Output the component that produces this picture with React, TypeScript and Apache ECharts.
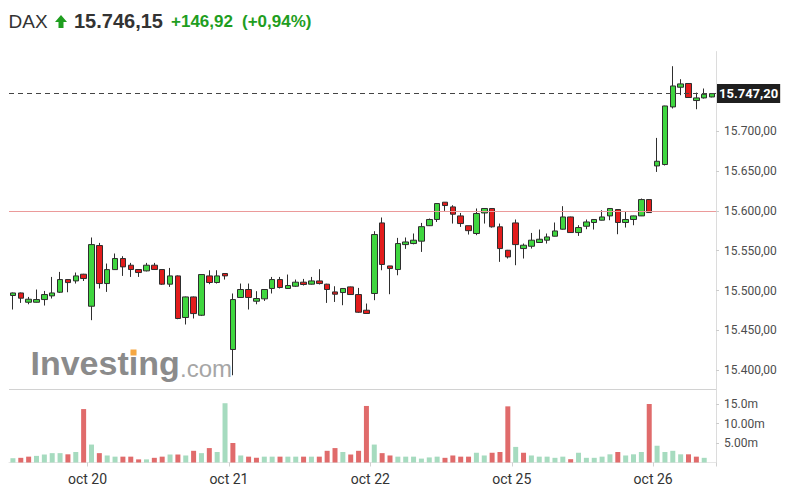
import React, { useEffect, useRef } from "react";
import * as echarts from "echarts";

// ---- data ----
const dayNames = ["oct 19", "oct 20", "oct 21", "oct 22", "oct 25", "oct 26"];
const barsPerDay = [10, 18, 18, 18, 18, 8];

// [open, close, low, high]
const candles: number[][] = [
  [15493.8, 15497.0, 15476.2, 15497.5],
  [15497.0, 15490.4, 15484.5, 15497.5],
  [15485.3, 15489.1, 15482.8, 15492.0],
  [15485.3, 15488.7, 15485.0, 15501.3],
  [15488.7, 15495.0, 15481.2, 15499.5],
  [15493.3, 15497.0, 15490.0, 15517.1],
  [15497.9, 15513.8, 15497.0, 15523.4],
  [15513.8, 15510.0, 15497.9, 15514.0],
  [15512.1, 15518.4, 15508.8, 15522.6],
  [15520.5, 15515.1, 15512.0, 15521.0],
  [15480.3, 15557.7, 15462.8, 15566.6],
  [15556.5, 15508.8, 15502.6, 15559.8],
  [15508.8, 15526.3, 15498.3, 15533.9],
  [15526.3, 15540.2, 15526.0, 15546.5],
  [15540.2, 15529.7, 15518.4, 15543.1],
  [15531.8, 15526.4, 15517.1, 15534.7],
  [15526.4, 15522.6, 15517.1, 15527.0],
  [15524.7, 15531.8, 15524.0, 15534.7],
  [15531.8, 15526.4, 15526.0, 15534.7],
  [15526.4, 15508.0, 15507.0, 15527.0],
  [15508.0, 15518.4, 15504.6, 15528.4],
  [15518.4, 15464.9, 15464.0, 15519.0],
  [15466.2, 15492.0, 15457.4, 15492.5],
  [15492.0, 15471.1, 15464.9, 15492.5],
  [15469.0, 15520.1, 15468.0, 15520.5],
  [15518.4, 15510.1, 15508.0, 15525.5],
  [15510.1, 15518.4, 15508.8, 15525.5],
  [15521.4, 15518.4, 15513.8, 15522.0],
  [15426.0, 15488.7, 15393.7, 15496.3],
  [15491.3, 15501.3, 15491.0, 15508.8],
  [15501.3, 15491.3, 15476.2, 15508.8],
  [15486.6, 15490.0, 15482.8, 15499.2],
  [15489.6, 15501.3, 15487.0, 15501.5],
  [15502.6, 15513.8, 15496.3, 15517.1],
  [15513.8, 15503.8, 15502.6, 15517.1],
  [15502.6, 15506.3, 15502.0, 15520.1],
  [15505.4, 15510.5, 15504.6, 15513.8],
  [15510.5, 15507.6, 15506.3, 15514.6],
  [15508.0, 15512.1, 15507.5, 15517.1],
  [15512.1, 15508.8, 15507.6, 15526.8],
  [15508.0, 15501.3, 15484.5, 15508.5],
  [15498.3, 15495.4, 15485.7, 15505.4],
  [15497.5, 15502.6, 15481.6, 15503.0],
  [15504.6, 15495.0, 15494.5, 15505.0],
  [15495.0, 15472.8, 15472.0, 15503.3],
  [15475.3, 15471.2, 15471.0, 15483.7],
  [15496.3, 15570.3, 15487.9, 15574.5],
  [15584.9, 15532.7, 15525.5, 15591.7],
  [15530.9, 15527.6, 15495.4, 15531.0],
  [15526.4, 15559.0, 15519.2, 15566.1],
  [15557.7, 15561.0, 15552.3, 15566.6],
  [15559.0, 15563.2, 15558.0, 15571.6],
  [15562.0, 15580.2, 15548.5, 15584.9],
  [15581.4, 15589.2, 15581.0, 15590.4],
  [15589.2, 15609.2, 15586.1, 15609.5],
  [15610.9, 15606.7, 15600.0, 15611.0],
  [15605.0, 15595.8, 15584.1, 15607.1],
  [15593.7, 15584.1, 15579.9, 15597.4],
  [15581.4, 15575.2, 15570.3, 15581.5],
  [15571.6, 15596.7, 15569.5, 15603.0],
  [15597.4, 15603.0, 15584.1, 15603.5],
  [15603.0, 15580.0, 15579.0, 15603.5],
  [15580.0, 15552.7, 15536.0, 15584.1],
  [15550.6, 15542.2, 15540.2, 15551.0],
  [15584.9, 15557.7, 15531.8, 15589.2],
  [15552.7, 15556.9, 15540.2, 15559.0],
  [15555.6, 15563.2, 15552.7, 15572.3],
  [15560.3, 15564.4, 15560.0, 15576.6],
  [15563.2, 15567.3, 15559.0, 15571.6],
  [15568.2, 15574.8, 15568.0, 15585.4],
  [15577.0, 15592.4, 15576.5, 15605.9],
  [15592.4, 15572.8, 15572.5, 15592.8],
  [15572.8, 15579.1, 15568.6, 15582.0],
  [15580.7, 15586.1, 15577.0, 15589.2],
  [15585.4, 15589.2, 15576.6, 15589.5],
  [15588.3, 15592.4, 15588.0, 15600.8],
  [15593.7, 15603.0, 15588.3, 15603.5],
  [15601.7, 15585.4, 15570.7, 15602.0],
  [15585.4, 15589.2, 15579.1, 15598.7],
  [15589.2, 15593.7, 15582.0, 15594.0],
  [15593.7, 15614.2, 15593.5, 15615.5],
  [15614.2, 15597.9, 15597.5, 15614.5],
  [15656.4, 15662.3, 15648.9, 15691.6],
  [15658.2, 15731.7, 15657.0, 15732.0],
  [15730.5, 15756.8, 15728.5, 15781.6],
  [15755.2, 15759.4, 15745.2, 15765.3],
  [15759.9, 15742.3, 15742.0, 15760.0],
  [15738.5, 15741.8, 15727.6, 15748.5],
  [15741.8, 15746.4, 15741.0, 15753.6],
  [15743.0, 15747.2, 15742.5, 15747.5],
];

// volume in millions
const volumes: (number | null)[] = [
  1.1, 1.2, 1.5, 1.7, 2.05, 2.4, 2.4, 2.1, 2.7, 13.7,
  4.6, 2.4, 1.8, 1.5, 1.5, 1.5, 0.8, 0.8, 1.2, 1.5,
  2.05, 2.05, 1.8, 3.0, 2.4, 3.7, 2.7, 15.2, 5.0, 1.8,
  1.5, 1.2, 1.5, 1.5, 1.5, 1.5, 1.5, 1.5, 1.5, 1.5,
  3.0, 3.7, 2.7, 2.05, 3.0, 14.5, 4.6, 2.4, 1.8, 1.5,
  1.5, 1.5, 1.0, 1.3, 1.5, 1.2, 1.8, 1.5, 1.5, 2.5,
  1.8, 2.5, 2.7, 14.4, 4.0, 2.5, 1.8, 1.5, 1.5, 1.2,
  1.5, 0.85, 2.5, 1.2, 1.2, 1.5, 2.1, 2.7, 1.8, 2.1,
  2.7, 15.0, 4.3, 2.7, 3.0, 2.1, 2.1, 1.5, 1.2, null,
];
// 1 = green, 0 = red
const volumeUp: number[] = [
  1, 0, 0, 1, 1, 1, 1, 0, 1, 0,
  1, 0, 1, 1, 0, 0, 0, 1, 0, 0,
  1, 0, 1, 0, 1, 0, 1, 1, 0, 1,
  0, 0, 1, 1, 0, 1, 1, 0, 1, 0,
  0, 0, 1, 0, 0, 0, 1, 0, 0, 1,
  1, 1, 1, 1, 1, 0, 0, 0, 0, 1,
  1, 0, 0, 0, 1, 0, 1, 1, 1, 1,
  1, 0, 1, 1, 1, 1, 1, 0, 1, 1,
  1, 0, 1, 1, 1, 1, 0, 0, 1, 1,
];

const priceTicks = [15400, 15450, 15500, 15550, 15600, 15650, 15700];
const volTicks = [5, 10, 15];
const volTickLabels = ["5.00m", "10.00m", "15.0m"];

const lastPrice = 15747.2;
const prevClose = 15599.23;
const headerName = "DAX";
const headerPrice = "15.746,15";
const headerChange = "+146,92";
const headerPct = "(+0,94%)";

// ---- helpers ----
const categories: string[] = [];
dayNames.forEach((d, di) => {
  for (let k = 0; k < barsPerDay[di]; k++) categories.push(d + "|" + k);
});
const isDayStart = (idx: number) =>
  idx > 0 && categories[idx].split("|")[0] !== categories[idx - 1].split("|")[0];

const fmtPrice = (v: number) => {
  const [i, d] = v.toFixed(2).split(".");
  return i.replace(/\B(?=(\d{3})+(?!\d))/g, ".") + "," + d;
};

const GREEN = "#3fd63f";
const RED = "#e31c1c";
const VOL_GREEN = "#a6dbbf";
const VOL_RED = "#e06b6b";
const HEAD_GREEN = "#1f9e1f";
const PINK = "#eb9a9a";

export default function App() {
  const ref = useRef<HTMLDivElement>(null);
  useEffect(() => {
    if (!ref.current) return;
    const chart = echarts.init(ref.current, undefined, { renderer: "svg" });
    const option: any = {
      animation: false,
      grid: [
        { left: 9, top: 51.55, width: 707, height: 358.5 },
        { left: 9, top: 389.5, width: 707, height: 73 },
      ],
      xAxis: [
        {
          type: "category",
          gridIndex: 0,
          data: categories,
          boundaryGap: true,
          axisLine: { show: false },
          axisTick: { show: false },
          axisLabel: { show: false },
          splitLine: { show: false },
        },
        {
          type: "category",
          gridIndex: 1,
          data: categories,
          boundaryGap: true,
          axisLine: { show: true, lineStyle: { color: "#e6e6e6" } },
          axisTick: { show: true, interval: isDayStart, length: 4, lineStyle: { color: "#d0d0d0" } },
          axisLabel: {
            interval: isDayStart,
            formatter: (v: string) => v.split("|")[0],
            color: "#333",
            fontSize: 14,
            fontFamily: "Roboto",
            margin: 9,
            padding: [0, 7.9, 0, 0],
          },
          splitLine: { show: false },
        },
      ],
      yAxis: [
        {
          type: "value",
          gridIndex: 0,
          position: "right",
          min: 15350,
          max: 15800,
          interval: 50,
          splitLine: { show: false },
          axisLine: { show: true, lineStyle: { color: "#dcdcdc" } },
          axisTick: { show: true, length: 3, lineStyle: { color: "#cccccc" }, customValues: priceTicks },
          axisLabel: {
            customValues: priceTicks,
            formatter: (v: number) => fmtPrice(v),
            color: "#4d4d4d",
            fontSize: 12,
            fontFamily: "Roboto",
            margin: 8,
          },
        },
        {
          type: "value",
          gridIndex: 1,
          position: "right",
          min: 0,
          max: 18.72,
          interval: 5,
          splitLine: { show: false },
          axisLine: { show: true, lineStyle: { color: "#dcdcdc" } },
          axisTick: { show: true, length: 3, lineStyle: { color: "#cccccc" }, customValues: volTicks },
          axisLabel: {
            customValues: volTicks,
            formatter: (v: number) => volTickLabels[volTicks.indexOf(v)] ?? "",
            color: "#4d4d4d",
            fontSize: 12,
            fontFamily: "Roboto",
            margin: 8,
          },
        },
      ],
      graphic: [
        {
          type: "text",
          x: 8.5,
          y: 21,
          style: { text: headerName, fontSize: 19, fontFamily: "Liberation Sans, Arial", fill: "#333", verticalAlign: "middle" },
        },
        {
          type: "polygon",
          shape: {
            points: [
              [61, 15],
              [67, 22],
              [63.5, 22],
              [63.5, 28],
              [58.5, 28],
              [58.5, 22],
              [55, 22],
            ],
          },
          style: { fill: HEAD_GREEN },
        },
        {
          type: "text",
          x: 74,
          y: 21,
          style: { text: headerPrice, fontSize: 20, fontWeight: "bold", fontFamily: "Liberation Sans, Arial", fill: "#333", verticalAlign: "middle" },
        },
        {
          type: "text",
          x: 171,
          y: 21.5,
          style: { text: headerChange, fontSize: 17, fontWeight: "bold", fontFamily: "Liberation Sans, Arial", fill: HEAD_GREEN, verticalAlign: "middle" },
        },
        {
          type: "text",
          x: 242,
          y: 21.5,
          style: { text: headerPct, fontSize: 17, fontWeight: "bold", fontFamily: "Liberation Sans, Arial", fill: HEAD_GREEN, verticalAlign: "middle" },
        },
        {
          type: "text",
          x: 30.5,
          y: 363,
          z: 0,
          style: { text: "Investing", fontSize: 34, fontWeight: "bold", fontFamily: "Liberation Sans, Arial", fill: "#8b8b8b", verticalAlign: "middle" },
        },
        {
          type: "rect",
          z: 1,
          shape: { x: 130.5, y: 349.5, width: 6, height: 6 },
          style: { fill: "#f5a742" },
        },
        {
          type: "text",
          x: 180,
          y: 368,
          z: 0,
          style: { text: ".com", fontSize: 24, fontFamily: "Liberation Sans, Arial", fill: "#a6a6a6", verticalAlign: "middle" },
        },
        {
          type: "line",
          shape: { x1: 9, y1: 389.5, x2: 716, y2: 389.5 },
          style: { stroke: "#d2d2d2", lineWidth: 1 },
        },
      ],
      series: [
        {
          type: "candlestick",
          xAxisIndex: 0,
          yAxisIndex: 0,
          data: candles,
          barWidth: 6,
          itemStyle: {
            color: GREEN,
            color0: RED,
            borderColor: "#2e2e2e",
            borderColor0: "#2e2e2e",
            borderWidth: 1,
          },
          markLine: {
            silent: true,
            symbol: ["none", "none"],
            animation: false,
            label: { show: false },
            emphasis: { disabled: true },
            data: [
              {
                yAxis: prevClose,
                lineStyle: { color: PINK, type: "solid", width: 1 },
                label: { show: false },
              },
              {
                yAxis: lastPrice,
                lineStyle: { color: "#444", type: [5, 4], width: 1 },
                label: {
                  show: true,
                  position: "end",
                  distance: 1,
                  formatter: fmtPrice(lastPrice),
                  color: "#fff",
                  backgroundColor: "#1f1f1f",
                  padding: [3, 2, 3, 2],
                  fontSize: 13,
                  fontWeight: "bold",
                  fontFamily: "Roboto",
                },
              },
            ],
          },
        },
        {
          type: "bar",
          xAxisIndex: 1,
          yAxisIndex: 1,
          barWidth: 5,
          data: volumes.map((v, i) => ({
            value: v,
            itemStyle: { color: volumeUp[i] ? VOL_GREEN : VOL_RED },
          })),
        },
      ],
    };
    chart.setOption(option);
    return () => chart.dispose();
  }, []);
  return (
    <div
      ref={ref}
      style={{ position: "absolute", left: 0, top: 0, width: 787, height: 496, background: "#fff" }}
    />
  );
}
